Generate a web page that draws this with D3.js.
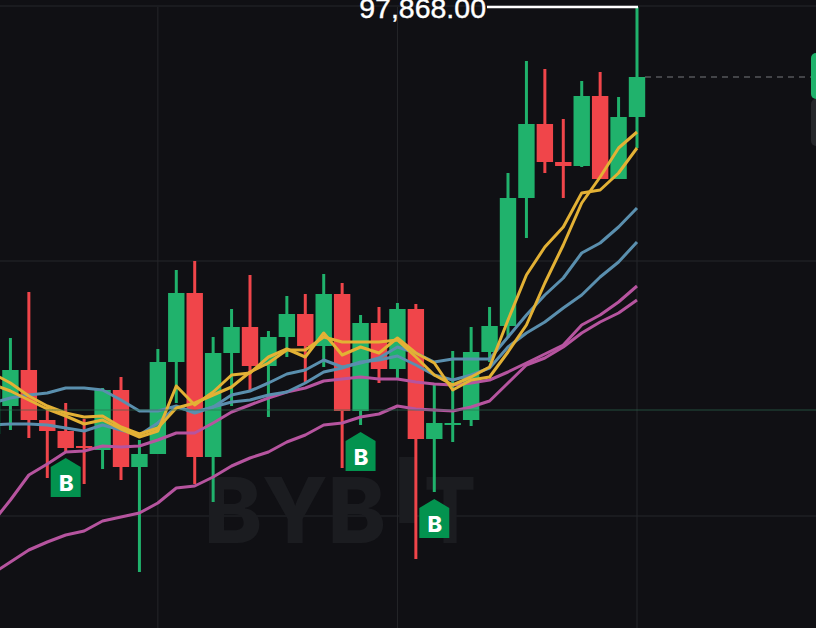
<!DOCTYPE html>
<html>
<head>
<meta charset="utf-8">
<script src="https://cdn.jsdelivr.net/npm/d3@7"></script>
<style>
    html, body { margin: 0; padding: 0; background: #101014; overflow: hidden; }
    svg { display: block; }
</style>
</head>
<body>
<div id="chart"></div>
<script>
// first candle is half off the left edge and drawn darker, on top of the lines
var firstOpen = 96160, firstClose = 96352;

var open = [96272,96416,96216,96172,96112,96096,96336,96028,96080,96448,96724,96068,96484,96588,96432,96548,96640,96512,96720,96252,96604,96420,96660,96140,96196,96216,96488,96592,97104,97400,97248,97232,97512,97180,97428];
var high = [96544,96728,96268,96284,96220,96344,96388,96136,96500,96816,96852,96548,96660,96796,96572,96712,96720,96800,96764,96636,96668,96684,96680,96364,96492,96588,96668,97204,97652,97620,97420,97572,97608,97508,97868];
var low = [96176,96144,95984,96088,95960,96020,95976,95608,96080,96284,95960,95888,96272,96336,96228,96468,96368,96428,96024,96196,96364,96384,95660,95928,96128,96192,96448,96544,96944,97204,97104,97228,97180,97180,97304];
var close = [96416,96216,96172,96104,96104,96336,96028,96080,96448,96724,96068,96484,96588,96432,96548,96640,96512,96720,96252,96604,96420,96660,96140,96204,96204,96488,96592,97104,97400,97248,97232,97512,97180,97428,97588];

var maYellowA = [96404,96364,96312,96272,96244,96228,96232,96188,96160,96184,96264,96284,96316,96348,96408,96444,96496,96496,96548,96528,96528,96528,96536,96468,96396,96356,96388,96428,96616,96796,96908,96988,97124,97136,97204,97304];
var maYellowB = [96360,96332,96296,96260,96232,96200,96216,96180,96148,96172,96352,96276,96328,96396,96404,96468,96500,96468,96564,96476,96508,96484,96544,96484,96444,96336,96376,96388,96488,96596,96764,96916,97084,97188,97304,97368];
var maBlueA = [96284,96304,96316,96324,96344,96344,96336,96296,96252,96252,96272,96244,96268,96316,96332,96364,96400,96416,96456,96428,96444,96464,96508,96484,96448,96460,96460,96460,96548,96636,96716,96784,96884,96924,96988,97064];
var maBlueB = [96196,96200,96200,96196,96184,96172,96196,96176,96156,96204,96268,96248,96268,96288,96296,96316,96328,96364,96408,96424,96448,96456,96472,96436,96396,96376,96396,96424,96508,96564,96608,96664,96716,96788,96848,96928];
var maPinkA = [95804,95896,95996,96040,96088,96092,96112,96108,96112,96136,96164,96164,96204,96248,96276,96304,96328,96344,96372,96380,96388,96380,96380,96368,96360,96356,96364,96376,96408,96444,96480,96516,96596,96636,96688,96752];
var maPinkB = [95600,95648,95696,95728,95756,95772,95812,95828,95844,95884,95944,95952,95988,96032,96064,96088,96128,96156,96196,96204,96228,96240,96272,96260,96256,96252,96268,96292,96364,96436,96464,96508,96564,96608,96644,96696];

var priceTicks = [97872, 96852, 95832];
var timeTicks = [9, 22, 35];
var levelPrice = 96256, lastPrice = 97588, highPrice = 97868;
var buyIndex = [4, 20, 24];
var buyTop = [96064, 96168, 95900];

var width = 816, height = 628,
    green = "#20b26c", red = "#f0454a", buyGreen = "#03934f",
    gridColor = "#25262a", markColor = "#1b1c20";

var x = d3.scaleLinear().domain([0, 35]).range([-8, 637]);
var y = d3.scaleLinear().domain([97896, 95384]).range([0, 628]);

var svg = d3.select("#chart").append("svg")
    .attr("width", width)
    .attr("height", height);

svg.append("rect")
    .attr("width", width)
    .attr("height", height)
    .attr("fill", "#101014");

// grid
svg.selectAll("line.h-grid")
    .data(priceTicks)
    .enter()
    .append("line")
        .attr("class", "h-grid")
        .attr("x1", 0).attr("x2", width)
        .attr("y1", function(d) { return y(d); })
        .attr("y2", function(d) { return y(d); })
        .attr("stroke", gridColor);

svg.selectAll("line.v-grid")
    .data(timeTicks)
    .enter()
    .append("line")
        .attr("class", "v-grid")
        .attr("x1", function(d) { return x(d); })
        .attr("x2", function(d) { return x(d); })
        .attr("y1", y(highPrice)).attr("y2", height)
        .attr("stroke", gridColor);

// watermark, the I sits higher than the other letters
var mark = svg.append("g")
    .attr("fill", markColor)
    .attr("font-family", "Inter, 'Liberation Sans', sans-serif")
    .attr("font-weight", 800)
    .attr("font-size", 91);
mark.append("text").attr("x", 204).attr("y", 543)
    .attr("textLength", 182).attr("lengthAdjust", "spacingAndGlyphs").text("BYB");
mark.append("text").attr("x", 394).attr("y", 523).text("I");
mark.append("text").attr("x", 424).attr("y", 543)
    .attr("textLength", 52).attr("lengthAdjust", "spacingAndGlyphs").text("T");

// candles
var candles = open.map(function(d, i) {
    return {i: i + 1, o: d, h: high[i], l: low[i], c: close[i]};
});

function candleColor(d) { return d.c >= d.o ? green : red; }

var candle = svg.selectAll("g.candle")
    .data(candles)
    .enter()
    .append("g")
        .attr("class", "candle");

candle.append("line")
    .attr("x1", function(d) { return x(d.i); })
    .attr("x2", function(d) { return x(d.i); })
    .attr("y1", function(d) { return y(d.h); })
    .attr("y2", function(d) { return y(d.l); })
    .attr("stroke", candleColor)
    .attr("stroke-width", 3);

candle.append("rect")
    .attr("x", function(d) { return x(d.i) - 8.2; })
    .attr("width", 16.4)
    .attr("y", function(d) { return y(Math.max(d.o, d.c)); })
    .attr("height", function(d) { return Math.abs(y(d.o) - y(d.c)); })
    .attr("fill", candleColor);

// moving averages
var line = d3.line()
    .x(function(d, i) { return x(i); })
    .y(function(d) { return y(d); });

var maLines = [
    [maPinkB, "#b6549f"], [maPinkA, "#b6549f"],
    [maBlueB, "#5a8fae"], [maBlueA, "#5a8fae"],
    [maYellowA, "#e3b135"], [maYellowB, "#e3b135"]
];

svg.selectAll("path.ma")
    .data(maLines)
    .enter()
    .append("path")
        .attr("class", "ma")
        .attr("d", function(d) { return line(d[0]); })
        .attr("fill", "none")
        .attr("stroke", function(d) { return d[1]; })
        .attr("stroke-width", 3)
        .attr("stroke-linejoin", "round");

svg.append("rect")
    .attr("x", x(0) - 8.2)
    .attr("width", 16.4)
    .attr("y", y(firstClose))
    .attr("height", y(firstOpen) - y(firstClose))
    .attr("fill", "#03a35a");

// level lines
svg.append("line")
    .attr("x1", 0).attr("x2", width)
    .attr("y1", y(levelPrice)).attr("y2", y(levelPrice))
    .attr("stroke", "#2f6d52")
    .attr("stroke-opacity", 0.45)
    .attr("stroke-width", 1.5);

svg.append("line")
    .attr("x1", x(35) + 8).attr("x2", 811)
    .attr("y1", y(lastPrice)).attr("y2", y(lastPrice))
    .attr("stroke", "#77787c")
    .attr("stroke-dasharray", "6 5");

// highest price label
svg.append("line")
    .attr("x1", 487).attr("x2", x(35) + 1)
    .attr("y1", y(highPrice)).attr("y2", y(highPrice))
    .attr("stroke", "#ffffff")
    .attr("stroke-width", 2.5);

svg.append("text")
    .attr("x", 486)
    .attr("y", y(highPrice) + 11)
    .attr("text-anchor", "end")
    .attr("fill", "#ffffff")
    .attr("stroke", "#ffffff")
    .attr("stroke-width", 0.4)
    .attr("font-family", "'Liberation Sans', sans-serif")
    .attr("font-size", 28.5)
    .text(d3.format(",.2f")(highPrice));

// buy markers
var buy = svg.selectAll("g.buy")
    .data(buyIndex)
    .enter()
    .append("g")
        .attr("class", "buy")
        .attr("transform", function(d, i) { return "translate(" + x(d) + "," + y(buyTop[i]) + ")"; });

buy.append("path")
    .attr("d", "M0,0 L15,9 L15,39 L-15,39 L-15,9 Z")
    .attr("fill", buyGreen);

buy.append("text")
    .attr("x", 0.5)
    .attr("y", 32.5)
    .attr("text-anchor", "middle")
    .attr("fill", "#ffffff")
    .attr("font-family", "Inter, sans-serif")
    .attr("font-weight", 800)
    .attr("font-size", 22)
    .text("B");

// price tabs cut by the right edge
svg.append("rect")
    .attr("x", 811).attr("y", 99)
    .attr("width", 20).attr("height", 47)
    .attr("rx", 5)
    .attr("fill", "#26272b");

svg.append("rect")
    .attr("x", 811).attr("y", 53)
    .attr("width", 20).attr("height", 46)
    .attr("rx", 5)
    .attr("fill", green);
</script>
</body>
</html>
